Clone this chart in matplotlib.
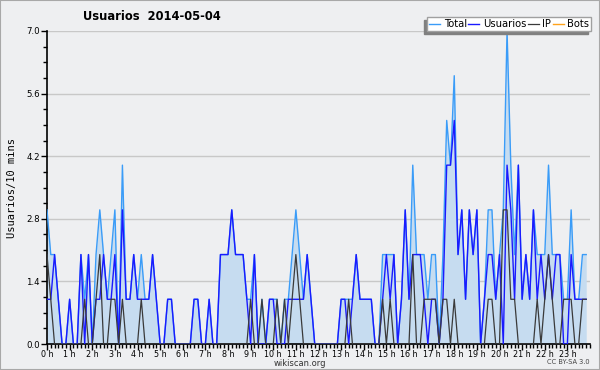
"""Usuarios por cada 10 minutos, wikiscan, 2014-05-04."""

import matplotlib

matplotlib.use("Agg")

import matplotlib.pyplot as plt
import numpy as np
from matplotlib.patches import Rectangle
from matplotlib.ticker import FixedLocator, MultipleLocator

TITLE = "Usuarios  2014-05-04"
Y_LABEL = "Usuarios/10 mins"
SERIES_NAMES = ["Total", "Usuarios", "IP", "Bots"]
HOUR_LABELS = [f"{h} h" for h in range(24)]
Y_TICKS = [0.0, 1.4, 2.8, 4.2, 5.6, 7.0]

# registered users per 10-minute slot (144 slots)
USUARIOS = [
    1, 1, 2, 1, 0, 0,  1, 0, 0, 2, 0, 2,  0, 1, 1, 2, 1, 1,  2, 0, 3, 1, 1, 2,
    1, 1, 1, 1, 2, 1,  0, 0, 1, 1, 0, 0,  0, 0, 0, 1, 1, 0,  0, 1, 0, 0, 2, 2,
    2, 3, 2, 2, 2, 1,  0, 2, 0, 0, 0, 1,  1, 0, 0, 0, 1, 1,  1, 1, 1, 2, 1, 0,
    0, 0, 0, 0, 0, 0,  1, 1, 0, 1, 2, 1,  1, 1, 1, 0, 0, 1,  2, 1, 2, 0, 1, 3,
    1, 2, 2, 2, 1, 0,  1, 1, 0, 1, 4, 4,  5, 2, 3, 1, 3, 2,  3, 0, 1, 2, 2, 1,
    2, 0, 4, 3, 1, 4,  1, 2, 1, 3, 1, 2,  1, 2, 1, 2, 2, 0,  0, 2, 1, 1, 1, 1,
]
# anonymous (IP) editors per slot
IP = [
    2, 1, 0, 0, 0, 0,  0, 0, 0, 0, 1, 0,  0, 1, 2, 0, 0, 1,  1, 0, 1, 0, 0, 0,
    0, 1, 0, 0, 0, 0,  0, 0, 0, 0, 0, 0,  0, 0, 0, 0, 0, 0,  0, 0, 0, 0, 0, 0,
    0, 0, 0, 0, 0, 0,  1, 0, 0, 1, 0, 0,  0, 1, 0, 1, 0, 1,  2, 1, 0, 0, 0, 0,
    0, 0, 0, 0, 0, 0,  0, 0, 1, 0, 0, 0,  0, 0, 0, 0, 0, 1,  0, 1, 0, 0, 0, 0,
    0, 2, 0, 0, 1, 1,  1, 1, 0, 1, 1, 0,  1, 0, 0, 0, 0, 0,  0, 0, 0, 1, 1, 0,
    0, 3, 3, 1, 1, 0,  0, 0, 0, 0, 1, 0,  1, 2, 1, 0, 0, 1,  1, 1, 0, 0, 1, 1,
]
BOTS = [0] * 144

BG = "#eeeff1"
FILL = "#c6dcf0"
C_TOTAL = "#3a9cf8"
C_USERS = "#1a1aff"
C_IP = "#3a3a3a"
C_BOTS = "#ffa31a"


def main() -> None:
    users = np.array(USUARIOS, dtype=float)
    ip = np.array(IP, dtype=float)
    bots = np.array(BOTS, dtype=float)
    total = users + ip + bots
    t = np.arange(len(total)) / 6.0

    fig = plt.figure(figsize=(6.0, 3.7), dpi=100, facecolor=BG)
    ax = fig.add_axes([47 / 600, 26 / 370, 543 / 600, 313 / 370], facecolor=BG)

    ax.fill_between(t, 0, total, color=FILL, linewidth=0, zorder=1)
    ax.plot(t, total, color=C_TOTAL, linewidth=1.0, label=SERIES_NAMES[0], zorder=3)
    ax.plot(t, users, color=C_USERS, linewidth=1.0, label=SERIES_NAMES[1], zorder=4)
    ax.plot(t, ip, color=C_IP, linewidth=0.9, label=SERIES_NAMES[2], zorder=5)
    ax.plot([], [], color=C_BOTS, linewidth=1.0, label=SERIES_NAMES[3])

    ax.set_xlim(0, 24)
    ax.set_ylim(0, 7.0)
    for side in ("top", "right"):
        ax.spines[side].set_visible(False)
    for side in ("left", "bottom"):
        ax.spines[side].set_linewidth(1.2)

    ax.yaxis.set_major_locator(FixedLocator(Y_TICKS))
    ax.yaxis.set_minor_locator(MultipleLocator(0.35))
    ax.set_yticklabels([f"{v:.1f}" for v in Y_TICKS])
    ax.xaxis.set_major_locator(FixedLocator(range(24)))
    ax.xaxis.set_minor_locator(MultipleLocator(1 / 6))
    ax.set_xticklabels(HOUR_LABELS)
    ax.tick_params(axis="both", which="major", length=4, width=1, pad=1, colors="black")
    ax.tick_params(axis="x", which="major", labelsize=5.8, pad=0)
    ax.tick_params(axis="y", which="major", labelsize=6.2)
    ax.tick_params(axis="both", which="minor", length=3, width=1)
    ax.grid(axis="y", which="major", color="#c8c8c8", linewidth=1.0, zorder=0)
    ax.set_axisbelow(True)

    ax.set_ylabel(Y_LABEL, family="DejaVu Sans Mono", fontsize=7.5, labelpad=7)

    fig.text(152 / 600, 1 - 17 / 370, TITLE, ha="center", va="center",
             fontsize=8.3, fontweight="bold")
    fig.text(300 / 600, 1 - 363.5 / 370, "wikiscan.org", ha="center", va="center",
             fontsize=6, color="#333333")
    fig.text(590 / 600, 1 - 362 / 370, "CC BY-SA 3.0", ha="right", va="center",
             fontsize=4.8, color="#444444")

    leg = fig.legend(
        loc="upper right",
        bbox_to_anchor=(591 / 600, 1 - 17 / 370),
        ncol=4,
        fontsize=7.2,
        frameon=True,
        fancybox=False,
        handlelength=1.1,
        handletextpad=0.35,
        columnspacing=0.15,
        borderpad=0.2,
        borderaxespad=0,
        shadow={"ox": -2.2, "oy": -2.2, "facecolor": "#808080", "edgecolor": "#808080", "alpha": 1},
    )
    leg.get_frame().set_edgecolor("#a0a0a0")
    leg.get_frame().set_linewidth(1.0)

    fig.patches.append(Rectangle((0, 0), 1, 1, transform=fig.transFigure, fill=False,
                                 edgecolor="#a8a8a8", linewidth=1.5))

    fig.savefig("out.png", dpi=100, facecolor=BG)
    plt.close(fig)


if __name__ == "__main__":
    main()
